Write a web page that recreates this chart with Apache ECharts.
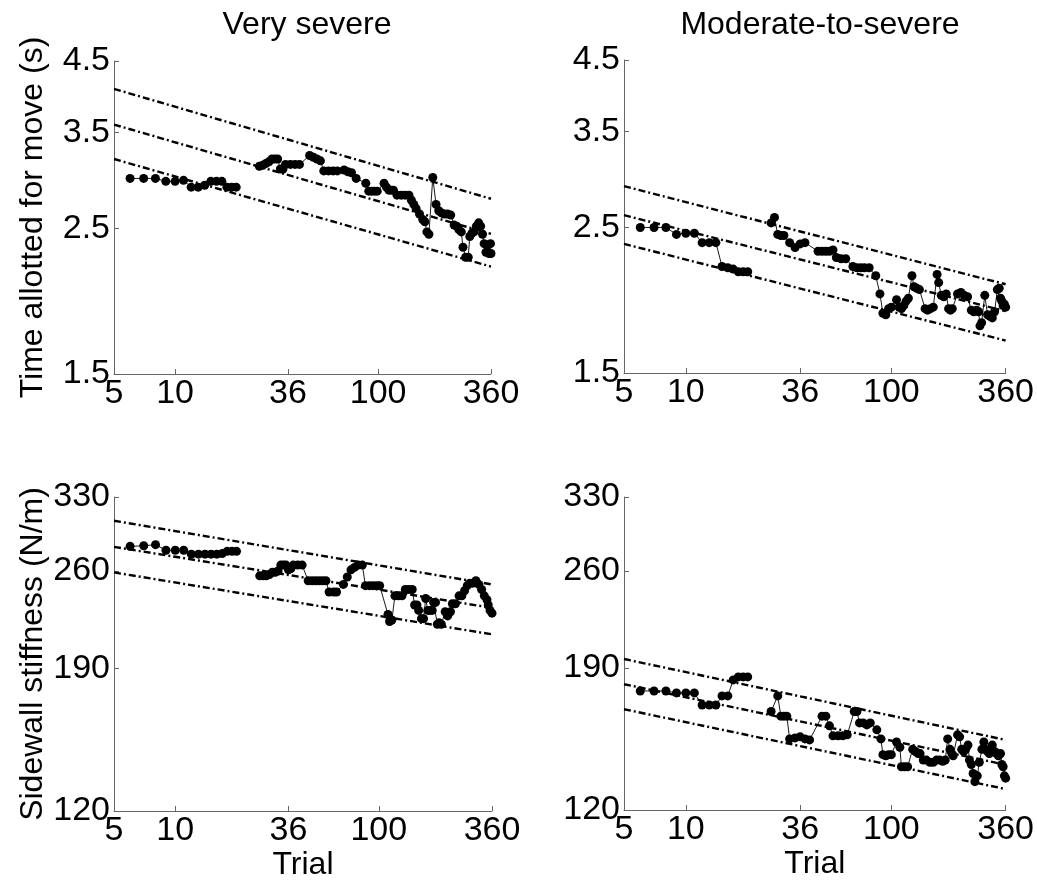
<!DOCTYPE html>
<html>
<head>
<meta charset="utf-8">
<script src="https://cdn.jsdelivr.net/npm/echarts@6/dist/echarts.min.js"></script>
<style>
  html, body { margin: 0; padding: 0; background: #fff; }
  #chart { width: 1037px; height: 882px; }
</style>
</head>
<body>
<div id="chart"></div>
<script>
// ---------------- DATA ----------------
const panelTitles = ['Very severe', 'Moderate-to-severe'];
const yNames = ['Time allotted for move (s)', 'Sidewall stiffness (N/m)'];
const xName = 'Trial';
const xTicks = [5, 10, 36, 100, 360];
const timeTicks = [1.5, 2.5, 3.5, 4.5];
const stiffTicks = [120, 190, 260, 330];

// Fit lines (upper / middle / lower) : values at trial 5 and trial 360
const fitTrials = [5, 360];
const tlUpper = [4.08, 2.775], tlMiddle = [3.60, 2.453], tlLower = [3.19, 2.187];
const trUpper = [2.89, 2.048], trMiddle = [2.61, 1.864], trLower = [2.36, 1.681];
const blUpper = [305.7, 249], blMiddle = [281, 230.9], blLower = [258.8, 212];
const brUpper = [195.5, 150.5], brMiddle = [180.2, 138.9], brLower = [166.2, 128.4];

// Very severe – time allotted
const tlTrials = [6,7,8,9,10,11,12,13,14,15,16,17,18,19,20,23,
  26,27,28,29,30,31,32,33,34,35,37,39,41,
  46,48,50,52,54,57,60,63,68,71,74,78,
  87,90,93,96,99,107,110,113,116,119,124,130,136,142,146,150,154,160,166,170,174,178,
  186,193,199,205,212,220,228,237,244,250,257,262,270,278,283,290,297,305,313,320,327,333,340,346,352,358,360];
const tlValues = [2.98,2.98,2.98,2.95,2.95,2.96,2.89,2.89,2.91,2.95,2.95,2.95,2.89,2.89,2.89,null,
  3.11,3.12,3.14,3.16,3.19,3.19,3.19,3.08,3.08,3.13,3.13,3.13,3.13,
  3.23,3.21,3.19,3.17,3.06,3.06,3.06,3.06,3.07,3.05,3.04,2.98,
  2.93,2.85,2.85,2.85,2.85,2.93,2.89,2.86,2.86,2.86,2.81,2.81,2.81,2.81,2.76,2.72,2.68,2.63,2.58,2.56,2.47,2.45,
  2.99,2.72,2.66,2.64,2.63,2.63,2.62,2.53,2.52,2.49,2.47,2.34,2.26,2.26,2.43,2.46,2.47,2.52,2.55,2.52,2.45,2.37,2.30,2.36,2.29,2.37,2.29];

// Moderate-to-severe – time allotted
const trTrials = [6,7,8,9,10,11,12,13,14,15,16,17,18,19,20,23,
  26,27,28,29,30,32,34,36,38,
  44,46,48,50,52,54,57,60,65,68,71,74,78,84,88,91,94,97,100,106,109,112,115,118,121,
  126,129,133,137,146,150,155,160,167,170,175,180,185,190,194,198,210,218,226,235,245,252,260,266,270,275,285,294,302,310,318,328,335,340,345,350,355,360];
const trValues = [2.50,2.50,2.50,2.44,2.45,2.45,2.37,2.37,2.37,2.18,2.17,2.16,2.14,2.14,2.14,null,
  2.54,2.59,2.44,2.43,2.43,2.37,2.33,2.36,2.37,
  2.30,2.30,2.30,2.30,2.31,2.25,2.24,2.24,2.18,2.17,2.17,2.17,2.17,2.11,1.98,1.85,1.84,1.88,1.89,1.94,1.89,1.88,1.90,1.93,1.95,
  2.11,2.03,2.02,2.01,1.88,1.87,1.88,1.89,2.12,2.06,1.97,1.96,1.98,1.88,1.87,1.88,1.98,1.99,1.97,1.96,1.87,1.86,1.87,1.86,1.77,1.79,1.97,1.84,1.83,1.82,1.86,2.01,2.02,1.95,1.93,1.90,1.91,1.89];

// Very severe – sidewall stiffness
const blTrials = [6,7,8,9,10,11,12,13,14,15,16,17,18,19,20,23,
  26,27,28,29,30,31,32,33,34,35,36,37,38,40,42,
  45,47,49,51,53,55,57,60,62,67,70,73,76,79,83,86,90,94,98,101,
  111,113,116,120,125,130,135,140,146,150,154,157,162,166,170,174,178,183,186,190,194,198,203,
  212,218,225,230,238,248,256,264,272,280,290,300,310,320,330,340,345,352,360];
const blValues = [281.5,282,283,278,278,278,274.5,274.5,274.5,274.5,274.5,275,277,277,277,null,
  256,256,256,257,259,259,260,265,265,265,261,262,265,265,265,
  252,252,252,252,252,252,243,243,243,249,255,261,263,265,265,248,248,248,248,248,
  226,221,222,240,240,240,245,245,245,233,233,229,223,223,238,229,229,229,235,235,219,220,219,
  228,225,228,234,234,240,240,244,248,250,250,252,249,245,240,237,233,229,227];

// Moderate-to-severe – sidewall stiffness
const brTrials = [6,7,8,9,10,11,12,13,14,15,16,17,18,19,20,23,
  26,28,29,30,31,32,34,36,38,40,
  46,48,50,52,55,58,61,66,68,70,73,76,79,85,89,91,94,97,100,106,110,112,116,120,
  127,131,135,138,143,148,154,160,166,172,178,183,188,193,197,200,210,215,220,225,230,236,
  240,245,250,255,262,268,276,282,288,294,300,310,318,325,332,340,345,350,355,360];
const brValues = [176.3,176.3,176.3,175.2,175.2,175.2,168.5,168.5,168.5,173.5,173.5,182.7,184.5,184.5,184.5,null,
  165,173.5,162.5,162.5,162.5,151,151.5,152,151,150.5,
  162.5,162.5,157.5,152.5,152.5,152.5,153,165,165,159,159,158,159,155.5,151,143.5,143,143.5,143.5,149.5,147,138,138,138,
  146,145,144,144,141,141,140,140,141,141,140.5,141,151,146,144,143,153,152,146,145,146,148,
  141,139,135,131.5,134,140,146,149.5,146,145,144,148,145,144,143,144,139,138,134,133];

// ---------------- BUILD ----------------
const FONT = '"Liberation Sans", Arial, Helvetica, sans-serif';
const TICK_SIZE = 34;
const TITLE_SIZE = 32;
const NAME_SIZE = 32;
const Y_NAME_GAP = 65;
const X_NAME_GAP = 36;

const lg = Math.log10;
function pts(trials, values) {
  return trials.map((t, i) => values[i] == null ? ['-', '-'] : [lg(t), lg(values[i])]);
}
function fit(vals) {
  return fitTrials.map((t, i) => [lg(t), lg(vals[i])]);
}

const grids = [
  { left: 114, top: 61, width: 377, height: 313 },
  { left: 624, top: 60, width: 383, height: 313 },
  { left: 114, top: 497, width: 378, height: 314 },
  { left: 624, top: 497, width: 383, height: 313 }
];
const AXIS_COLOR = '#666';

function xAxisFor(i) {
  const showName = i >= 2;
  return {
    type: 'value', gridIndex: i,
    min: lg(5), max: lg(360),
    name: showName ? xName : '',
    nameLocation: 'middle', nameGap: X_NAME_GAP,
    nameTextStyle: { fontFamily: FONT, fontSize: NAME_SIZE, color: '#000' },
    axisLine: { show: true, lineStyle: { color: AXIS_COLOR, width: 1 } },
    axisTick: { show: true, inside: true, length: 5, customValues: xTicks.map(lg), lineStyle: { color: AXIS_COLOR } },
    axisLabel: {
      customValues: xTicks.map(lg), fontFamily: FONT, fontSize: TICK_SIZE, color: '#000', margin: 3,
      formatter: v => String(Math.round(Math.pow(10, v)))
    },
    splitLine: { show: false }
  };
}
function yAxisFor(i) {
  const isTime = i < 2;
  const ticks = isTime ? timeTicks : stiffTicks;
  return {
    type: 'value', gridIndex: i,
    min: lg(ticks[0]), max: lg(ticks[ticks.length - 1]),
    name: (i % 2 === 0) ? yNames[isTime ? 0 : 1] : '',
    nameLocation: 'middle', nameGap: Y_NAME_GAP, nameRotate: 90,
    nameTextStyle: { fontFamily: FONT, fontSize: NAME_SIZE, color: '#000' },
    axisLine: { show: true, lineStyle: { color: AXIS_COLOR, width: 1 } },
    axisTick: { show: true, inside: true, length: 5, customValues: ticks.map(lg), lineStyle: { color: AXIS_COLOR } },
    axisLabel: {
      customValues: ticks.map(lg), fontFamily: FONT, fontSize: TICK_SIZE, color: '#000', margin: 4,
      formatter: v => isTime ? Math.pow(10, v).toFixed(1) : String(Math.round(Math.pow(10, v)))
    },
    splitLine: { show: false }
  };
}

const fitStyle = { color: '#000', width: 2.4, type: [7, 3, 2, 3] };
function fitSeries(i, vals) {
  return { type: 'line', xAxisIndex: i, yAxisIndex: i, data: fit(vals), symbol: 'none',
    lineStyle: fitStyle, silent: true, z: 2 };
}
function dataSeries(i, trials, values) {
  return { type: 'line', xAxisIndex: i, yAxisIndex: i, data: pts(trials, values),
    symbol: 'circle', symbolSize: 9, showAllSymbol: true, connectNulls: false,
    itemStyle: { color: '#000' }, lineStyle: { color: '#000', width: 0.9 }, z: 3, silent: true };
}

const option = {
  animation: false,
  backgroundColor: '#fff',
  title: [
    { text: panelTitles[0], left: 302, top: 4, textAlign: 'center',
      textStyle: { fontFamily: FONT, fontSize: TITLE_SIZE, fontWeight: 'normal', color: '#000' } },
    { text: panelTitles[1], left: 815, top: 4, textAlign: 'center',
      textStyle: { fontFamily: FONT, fontSize: TITLE_SIZE, fontWeight: 'normal', color: '#000' } }
  ],
  grid: grids,
  xAxis: [0, 1, 2, 3].map(xAxisFor),
  yAxis: [0, 1, 2, 3].map(yAxisFor),
  series: [
    fitSeries(0, tlUpper), fitSeries(0, tlMiddle), fitSeries(0, tlLower), dataSeries(0, tlTrials, tlValues),
    fitSeries(1, trUpper), fitSeries(1, trMiddle), fitSeries(1, trLower), dataSeries(1, trTrials, trValues),
    fitSeries(2, blUpper), fitSeries(2, blMiddle), fitSeries(2, blLower), dataSeries(2, blTrials, blValues),
    fitSeries(3, brUpper), fitSeries(3, brMiddle), fitSeries(3, brLower), dataSeries(3, brTrials, brValues)
  ]
};

const chart = echarts.init(document.getElementById('chart'), null, { renderer: 'canvas' });
chart.setOption(option);
</script>
</body>
</html>
